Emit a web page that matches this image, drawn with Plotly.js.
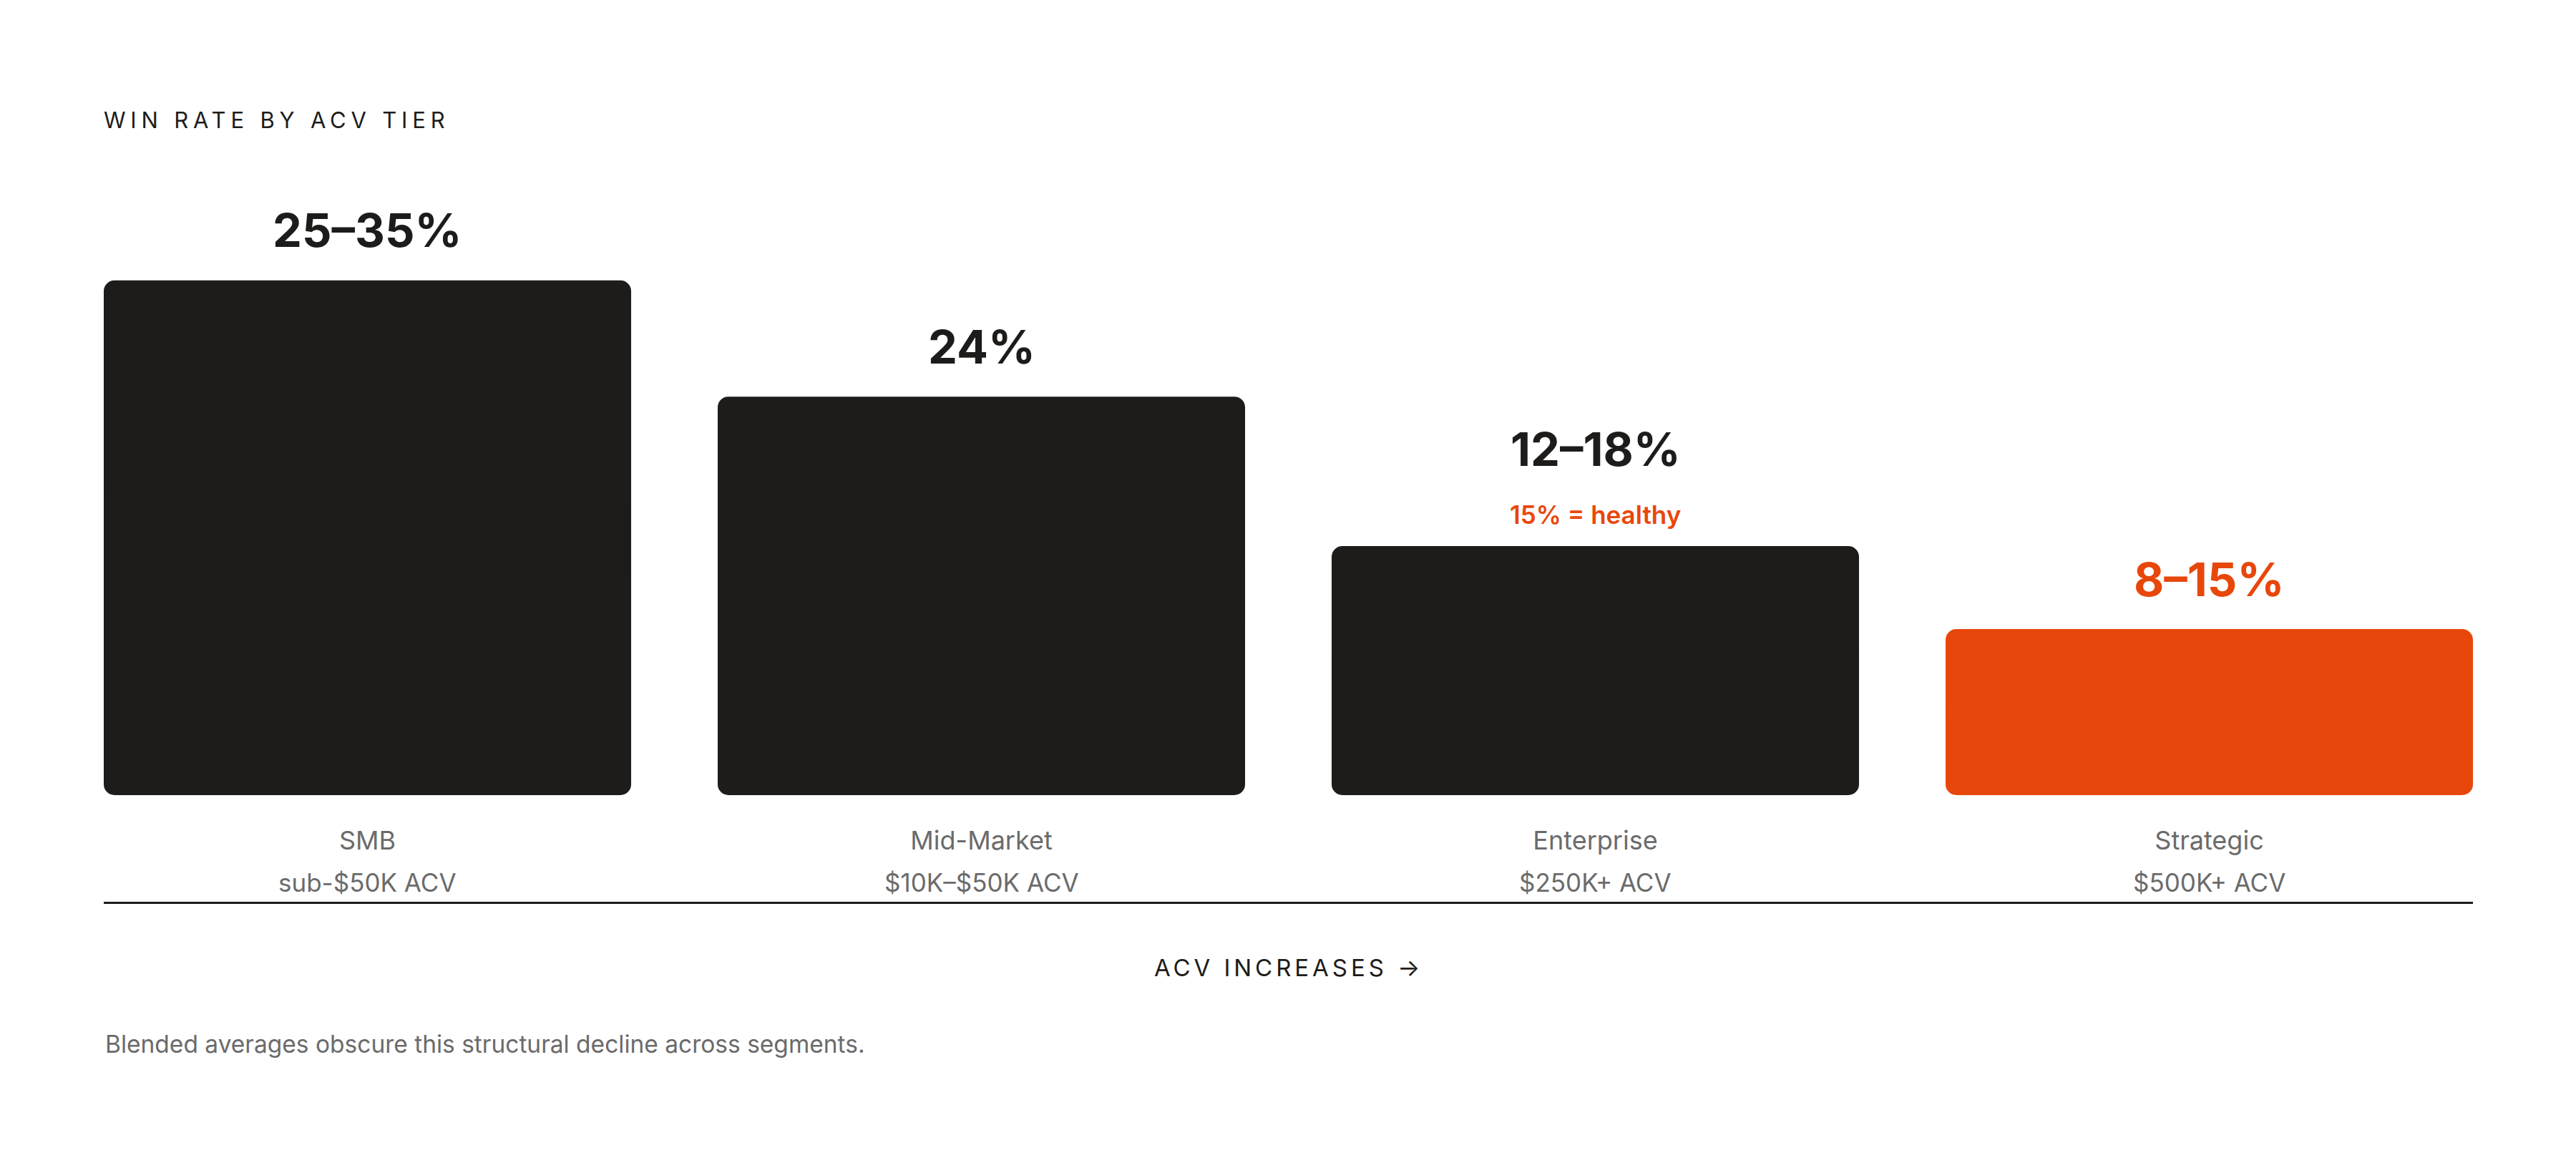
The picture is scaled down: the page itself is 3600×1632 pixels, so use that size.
<!DOCTYPE html>
<html>
<head>
<meta charset="utf-8">
<script src="https://cdn.plot.ly/plotly-3.0.1.min.js"></script>
<style>
  html, body { margin: 0; padding: 0; background: #ffffff; }
  #chart { width: 3600px; height: 1632px; }
</style>
</head>
<body>
<div id="chart"></div>
<script>
// ---- data ----
const tiers = ['SMB', 'Mid-Market', 'Enterprise', 'Strategic'];
const acvRanges = ['sub-$50K ACV', '$10K–$50K ACV', '$250K+ ACV', '$500K+ ACV'];
const winRateValues = [31, 24, 15, 10];            // representative bar heights (% win rate)
const winRateLabels = ['25–35%', '24%', '12–18%', '8–15%'];
const tierNotes = ['', '', '15% = healthy', ''];
const chartTitle = 'WIN RATE BY ACV TIER';
const axisCaption = 'ACV INCREASES →';
const footnote = 'Blended averages obscure this structural decline across segments.';

// ---- style ----
const DARK = '#1e1c1a';
const ORANGE = '#e8470c';
const GREY = '#6b6b6b';
const FONT = 'Inter, "DejaVu Sans", sans-serif';
const highlightTier = 'Strategic';
const barWidth = 0.859;
const radius = 15;

const xs = tiers.map((_, i) => i);
const colors = tiers.map(t => t === highlightTier ? ORANGE : DARK);

// two overlapping halves so both ends of each bar get rounded corners
const upper = {
  type: 'bar', x: xs,
  base: winRateValues.map(v => v * 0.4),
  y: winRateValues.map(v => v * 0.6),
  width: barWidth,
  marker: { color: colors, cornerradius: radius, line: { width: 0 } },
  hoverinfo: 'skip', showlegend: false
};
const lower = {
  type: 'bar', x: xs,
  base: winRateValues.map(v => v * 0.6),
  y: winRateValues.map(v => -v * 0.6),
  width: barWidth,
  marker: { color: colors, cornerradius: radius, line: { width: 0 } },
  hoverinfo: 'skip', showlegend: false
};

const annotations = [];
tiers.forEach((t, i) => {
  const hasNote = tierNotes[i] !== '';
  annotations.push({
    x: i, y: winRateValues[i], xref: 'x', yref: 'y',
    text: winRateLabels[i], showarrow: false,
    xanchor: 'center', yanchor: 'middle',
    yshift: hasNote ? 136 : 70,
    font: { family: FONT, size: 65, weight: 700, color: t === highlightTier ? ORANGE : DARK }
  });
  if (hasNote) {
    annotations.push({
      x: i, y: winRateValues[i], xref: 'x', yref: 'y',
      text: tierNotes[i], showarrow: false,
      xanchor: 'center', yanchor: 'middle', yshift: 44,
      font: { family: FONT, size: 35, weight: 600, color: ORANGE }
    });
  }
  annotations.push({
    x: i, y: 0, xref: 'x', yref: 'paper',
    text: acvRanges[i], showarrow: false,
    xanchor: 'center', yanchor: 'middle', yshift: -122,
    font: { family: FONT, size: 35, weight: 400, color: GREY }
  });
});
annotations.push({
  x: 0.5, y: 0, xref: 'paper', yref: 'paper',
  text: axisCaption, showarrow: false,
  xanchor: 'center', yanchor: 'middle', yshift: -241,
  font: { family: FONT, size: 33, weight: 400, color: DARK }
});
annotations.push({
  x: 0, y: 0, xref: 'paper', yref: 'paper',
  text: footnote, showarrow: false,
  xanchor: 'left', yanchor: 'middle', yshift: -348,
  font: { family: FONT, size: 33.5, weight: 400, color: GREY }
});

const layout = {
  width: 3600, height: 1632,
  paper_bgcolor: '#ffffff', plot_bgcolor: '#ffffff',
  margin: { l: 145, r: 144, t: 183, b: 521, pad: 0 },
  barmode: 'overlay',
  title: {
    text: chartTitle,
    x: 145 / 3600, xref: 'container', xanchor: 'left',
    y: 1 - 168 / 1632, yref: 'container', yanchor: 'middle',
    font: { family: FONT, size: 31, weight: 400, color: DARK }
  },
  xaxis: {
    range: [-barWidth / 2, 3 + barWidth / 2],
    tickvals: xs, ticktext: tiers,
    tickfont: { family: FONT, size: 36, color: GREY },
    ticks: '', showgrid: false, zeroline: false, showline: false,
    ticklabelstandoff: 39, fixedrange: true
  },
  yaxis: {
    range: [0, 40], visible: false, fixedrange: true,
    showgrid: false, zeroline: false
  },
  shapes: [{
    type: 'line', xref: 'paper', yref: 'paper',
    x0: 0, x1: 1, y0: -150.5 / 928, y1: -150.5 / 928,
    line: { color: DARK, width: 3 }
  }],
  annotations: annotations,
  hovermode: false,
  showlegend: false
};

Plotly.newPlot('chart', [upper, lower], layout, { displayModeBar: false, staticPlot: true }).then(() => {
  document.querySelectorAll('.gtitle').forEach(el => { el.style.letterSpacing = '0.22em'; });
  document.querySelectorAll('.annotation-text').forEach(el => {
    if (el.textContent === axisCaption) el.style.letterSpacing = '0.15em';
  });
});
</script>
</body>
</html>
